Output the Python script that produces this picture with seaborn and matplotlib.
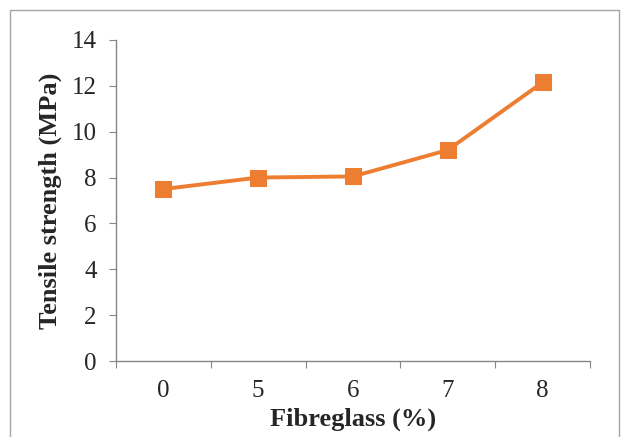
import seaborn as sns
import matplotlib.pyplot as plt
import pandas as pd
from matplotlib.lines import Line2D

# data
fibreglass = ["0", "5", "6", "7", "8"]
tensile = [7.5, 8.0, 8.05, 9.2, 12.15]

df = pd.DataFrame({"Fibreglass": fibreglass, "Tensile": tensile})

sns.set_style("white")
plt.rcParams['font.family'] = ['Liberation Serif', 'DejaVu Serif']

fig = plt.figure(figsize=(6.21, 4.37), dpi=100)
ax = fig.add_axes([0.1868, 0.1739, 0.7632, 0.7346])

sns.lineplot(data=df, x="Fibreglass", y="Tensile", marker="s", sort=False,
             color="#ED7D31", linewidth=2.8, markersize=12,
             markeredgecolor="#ED7D31", ax=ax)

ax.set_xlim(-0.5, 4.5)
ax.set_ylim(0, 14)
ax.set_yticks(range(0, 15, 2))
ax.set_xticks([i - 0.5 for i in range(6)], minor=False)
ax.set_xticklabels([])
ax.set_xticks(range(5), minor=True)
ax.set_xticklabels(fibreglass, minor=True)

spine_col = "#868686"
for s in ["top", "right"]:
    ax.spines[s].set_visible(False)
for s in ["left", "bottom"]:
    ax.spines[s].set_color(spine_col)
    ax.spines[s].set_linewidth(1.0)

ax.tick_params(axis="y", which="major", direction="out", length=5, color=spine_col,
               labelsize=18, pad=9, left=True)
ax.tick_params(axis="x", which="major", direction="out", length=5, color=spine_col,
               bottom=True)
ax.tick_params(axis="x", which="minor", length=0, labelsize=18, pad=14)

ax.set_xlabel("Fibreglass (%)", fontsize=19, fontweight="bold", labelpad=4)
ax.set_ylabel("Tensile strength (MPa)", fontsize=19, fontweight="bold", labelpad=7)

# outer border of the chart area (bottom edge is cut off)
bc = "#a6a6a6"
fig.add_artist(Line2D([0.016, 0.016], [0.0, 0.977], color=bc, lw=1.0))
fig.add_artist(Line2D([0.016, 0.9968], [0.977, 0.977], color=bc, lw=1.0))
fig.add_artist(Line2D([0.9968, 0.9968], [0.0, 0.977], color=bc, lw=1.0))

fig.savefig("out.png", dpi=100)
